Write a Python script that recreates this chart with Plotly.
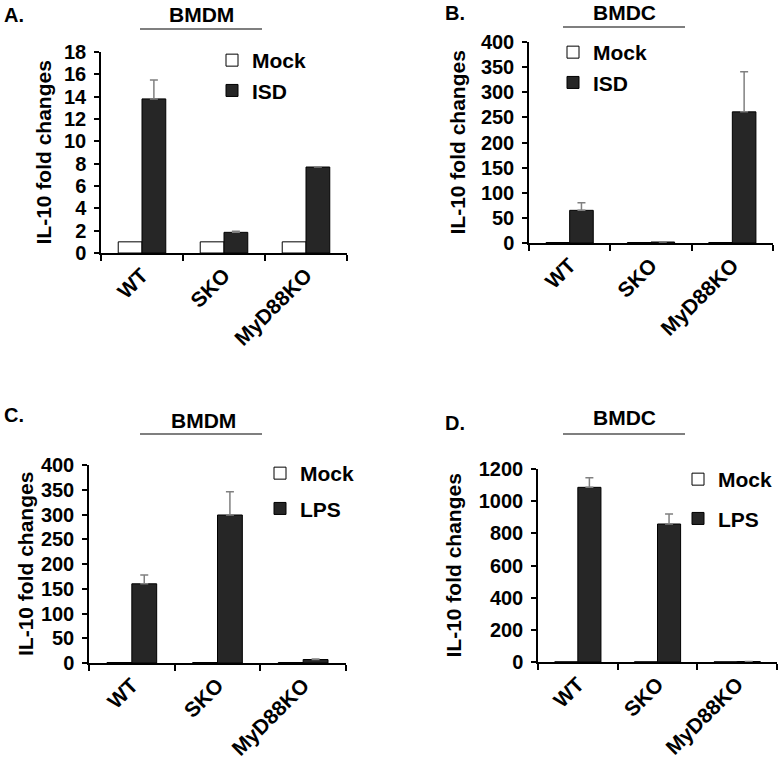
import plotly.graph_objects as go

W, H = 778, 758

categories = ["WT", "SKO", "MyD88KO"]

# Panel A: BMDM, ISD
a_mock = [1.0, 1.0, 1.0]
a_treat = [13.8, 1.85, 7.7]
a_err = [1.7, 0.1, 0.0]

# Panel B: BMDC, ISD
b_mock = [1.0, 1.0, 1.0]
b_treat = [65.0, 2.0, 261.0]
b_err = [15.0, 0.5, 80.0]

# Panel C: BMDM, LPS
c_mock = [1.0, 1.0, 1.0]
c_treat = [160.0, 299.0, 7.0]
c_err = [18.0, 47.0, 1.0]

# Panel D: BMDC, LPS
d_mock = [1.0, 1.0, 1.0]
d_treat = [1086.0, 858.0, 3.0]
d_err = [60.0, 62.0, 0.5]

panels = [
    dict(letter="A.", cell="BMDM", treat_name="ISD", mock=a_mock, treat=a_treat, err=a_err,
         yr=[0, 18], dt=2),
    dict(letter="B.", cell="BMDC", treat_name="ISD", mock=b_mock, treat=b_treat, err=b_err,
         yr=[0, 400], dt=50),
    dict(letter="C.", cell="BMDM", treat_name="LPS", mock=c_mock, treat=c_treat, err=c_err,
         yr=[0, 400], dt=50),
    dict(letter="D.", cell="BMDC", treat_name="LPS", mock=d_mock, treat=d_treat, err=d_err,
         yr=[0, 1200], dt=200),
]

# layout in pixels: (x0, x1, ytop, ybottom)
boxes = [(101, 347, 52, 253), (529, 773, 42, 243), (89, 346, 465, 663), (538, 777, 469, 662)]
legend_pos = [(212, 40, 0), (553, 32, 0), (260, 453, 5), (678, 459, 9)]
letter_pos = [(2, 15), (443, 13), (2, 415), (443, 423)]
header_pos = [(201, 14, 140, 262, 29), (624, 12, 563, 685, 27),
              (203, 420, 140, 262, 434), (624, 417, 563, 685, 434)]
ytitle_x = [43, 457, 25, 453]

FONT = "Liberation Sans, Arial, sans-serif"
px = lambda v: v / W
py = lambda v: 1 - v / H

fig = go.Figure()
layout = dict(width=W, height=H, margin=dict(l=0, r=0, t=0, b=0, autoexpand=False),
              paper_bgcolor="white", plot_bgcolor="white",
              barmode="group", bargap=0.42, bargroupgap=0,
              font=dict(family=FONT, size=18, color="black", weight="bold"),
              showlegend=True)
annotations = []
shapes = []

for i, p in enumerate(panels):
    n = "" if i == 0 else str(i + 1)
    xa, ya = "x" + n, "y" + n
    lg = "legend" + n
    x0, x1, yt, yb = boxes[i]
    fig.add_trace(go.Bar(x=categories, y=p["mock"], name="Mock", xaxis=xa, yaxis=ya,
                         marker=dict(color="white", line=dict(color="black", width=1)),
                         legend=lg, legendgroup=f"m{i}"))
    fig.add_trace(go.Bar(x=categories, y=p["treat"], name=p["treat_name"], xaxis=xa, yaxis=ya,
                         marker=dict(color="#262626", line=dict(color="black", width=1)),
                         error_y=dict(type="data", array=p["err"], symmetric=False,
                                      arrayminus=[0, 0, 0], color="#808080",
                                      thickness=1.5, width=4),
                         legend=lg, legendgroup=f"t{i}"))
    layout["xaxis" + n] = dict(domain=[px(x0), px(x1)], anchor=ya, type="category",
                               tickson="boundaries", ticks="outside", ticklen=6,
                               tickwidth=1.5, tickcolor="black",
                               showline=True, linecolor="black", linewidth=1.5,
                               tickangle=-45, tickfont=dict(size=21, weight="bold"),
                               showgrid=False, fixedrange=True, automargin=False)
    layout["yaxis" + n] = dict(domain=[py(yb), py(yt)], anchor=xa, range=p["yr"],
                               dtick=p["dt"], ticks="outside", ticklen=5, tickwidth=1.5,
                               tickcolor="black", showline=True, linecolor="black",
                               linewidth=1.5, showgrid=False, zeroline=False,
                               ticklabelstandoff=4, automargin=False,
                               tickfont=dict(size=20, weight="bold"))
    lx, ly, gap = legend_pos[i]
    layout[lg] = dict(x=px(lx), y=py(ly), xanchor="left", yanchor="top",
                      bgcolor="rgba(0,0,0,0)", font=dict(size=21, weight="bold"),
                      tracegroupgap=gap, itemclick=False, itemdoubleclick=False)
    # Panel letter
    annotations.append(dict(text=p["letter"], x=px(letter_pos[i][0]), y=py(letter_pos[i][1]),
                            xref="paper", yref="paper", xanchor="left", yanchor="middle",
                            showarrow=False, font=dict(size=20, weight="bold")))
    # Header + line
    hx, hy, lx0, lx1, lyy = header_pos[i]
    annotations.append(dict(text=p["cell"], x=px(hx), y=py(hy), xref="paper", yref="paper",
                            xanchor="center", yanchor="middle", showarrow=False,
                            font=dict(size=21, weight="bold")))
    shapes.append(dict(type="line", xref="paper", yref="paper", x0=px(lx0), x1=px(lx1),
                       y0=py(lyy), y1=py(lyy), line=dict(color="#555555", width=1.5)))
    # Y title
    annotations.append(dict(text="IL-10 fold changes", x=px(ytitle_x[i]),
                            y=py((yt + yb) / 2), xref="paper", yref="paper",
                            xanchor="center", yanchor="middle", textangle=-90,
                            showarrow=False, font=dict(size=21, weight="bold")))

layout["annotations"] = annotations
layout["shapes"] = shapes
fig.update_layout(**layout)
fig.write_html("out.html", config={"displayModeBar": False},
               post_script="document.body.style.margin='0';document.body.style.overflow='hidden';")
